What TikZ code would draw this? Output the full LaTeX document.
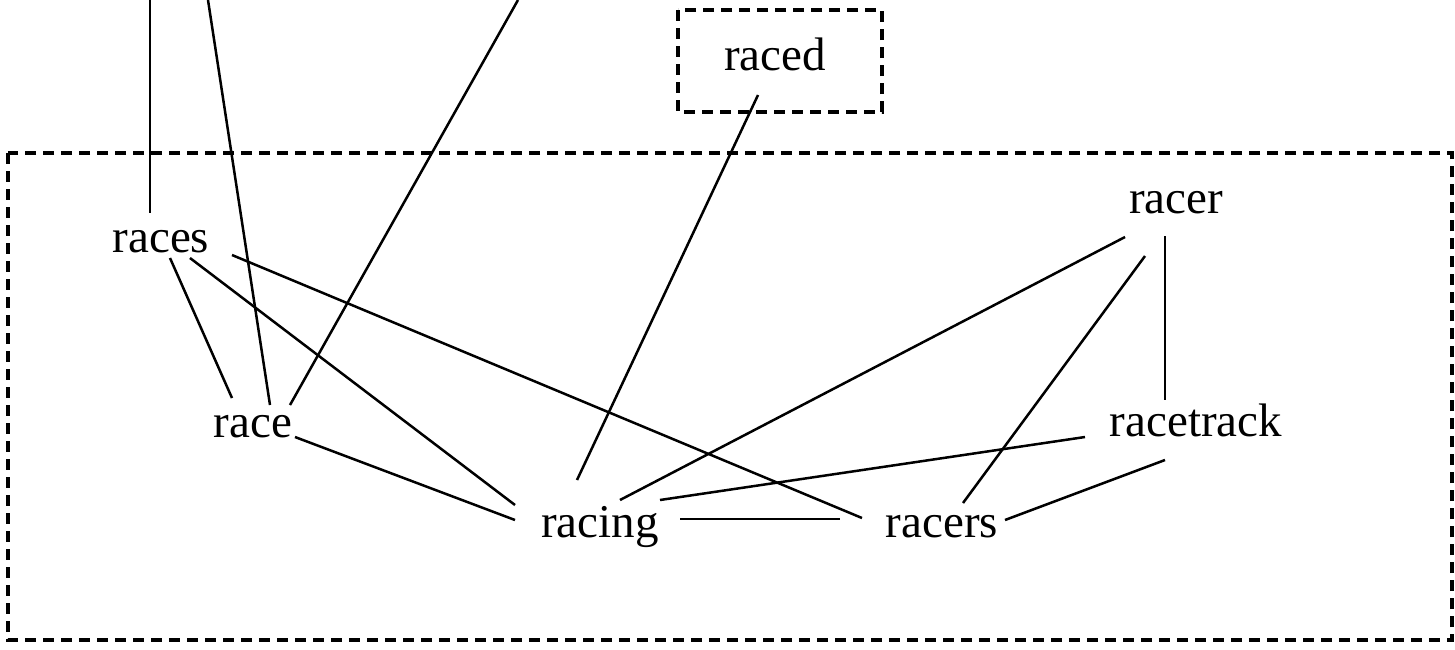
\documentclass[tikz,border=0pt]{standalone}
\usepackage{fontspec}
\setmainfont{Liberation Serif}
\usetikzlibrary{calc}
\begin{document}
\begin{tikzpicture}[x=0.5pt,y=-0.5pt,
  word/.style={anchor=base,inner sep=0pt,font=\fontsize{23.5}{28}\selectfont},
  edge/.style={line width=1.25pt},
  cluster/.style={dash pattern=on 5.5pt off 3.5pt, line width=1.6pt}]
\useasboundingbox (0,0) rectangle (1455,649);
% clusters
\draw[cluster] (678,10) rectangle (882,112);
\draw[cluster] (8,153) rectangle (1452,640);
% nodes
\node[word] (races) at (161,252) {races};
\node[word] (race) at (253,437) {race};
\node[word] (racing) at (600,537) {racing};
\node[word] (racers) at (942,537) {racers};
\node[word] (racetrack) at (1196,436) {racetrack};
\node[word] (racer) at (1176,213) {racer};
\node[word] (raced) at (775,70) {raced};
% free ends at the top edge
\coordinate (t1) at (150,0);
\coordinate (t2) at (208,0);
\coordinate (t3) at (518,0);
% edges
\draw[edge] (t1) -- ($(races.base)+(-11,-39)$);
\draw[edge] (t2) -- ($(race.base)+(17,-32)$);
\draw[edge] (t3) -- ($(race.base)+(37,-32)$);
\draw[edge] ($(races.base)+(9,6)$) -- ($(race.base)+(-21,-39)$);
\draw[edge] ($(races.base)+(29,6)$) -- ($(racing.base)+(-85,-32)$);
\draw[edge] ($(races.base)+(71,3)$) -- ($(racers.base)+(-80,-19)$);
\draw[edge] ($(race.base)+(42,0)$) -- ($(racing.base)+(-85,-17)$);
\draw[edge] ($(raced.base)+(-17,25)$) -- ($(racing.base)+(-23,-57)$);
\draw[edge] ($(racer.base)+(-51,24)$) -- ($(racing.base)+(20,-37)$);
\draw[edge] ($(racetrack.base)+(-111,1)$) -- ($(racing.base)+(60,-37)$);
\draw[edge] ($(racing.base)+(80,-18)$) -- ($(racers.base)+(-102,-18)$);
\draw[edge] ($(racer.base)+(-31,43)$) -- ($(racers.base)+(21,-34)$);
\draw[edge] ($(racer.base)+(-11,23)$) -- ($(racetrack.base)+(-31,-36)$);
\draw[edge] ($(racetrack.base)+(-31,24)$) -- ($(racers.base)+(63,-17)$);
\end{tikzpicture}
\end{document}
